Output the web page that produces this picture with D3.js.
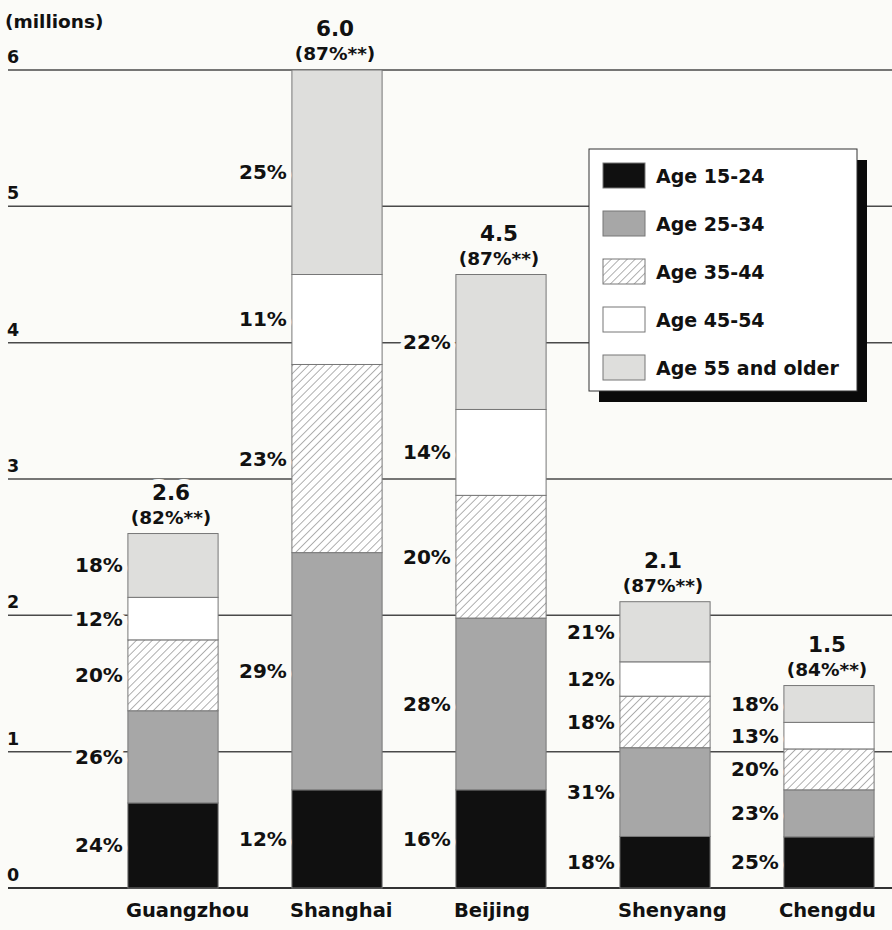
<!DOCTYPE html>
<html>
<head>
<meta charset="utf-8">
<script src="https://cdn.jsdelivr.net/npm/d3@7"></script>
<style>
  html, body { margin: 0; padding: 0; background: #fbfbf8; }
  svg { display: block; font-family: "DejaVu Sans", sans-serif; font-weight: bold; }
</style>
</head>
<body>
<svg id="chart" width="892" height="930"></svg>
<script>
// ---- data ----
const cities = ["Guangzhou", "Shanghai", "Beijing", "Shenyang", "Chengdu"];
const totals = [2.6, 6.0, 4.5, 2.1, 1.5];           // millions
const adultShare = [82, 87, 87, 87, 84];             // (xx%**)
const ageGroups = ["Age 15-24", "Age 25-34", "Age 35-44", "Age 45-54", "Age 55 and older"];
const pct15to24 = [24, 12, 16, 18, 25];
const pct25to34 = [26, 29, 28, 31, 23];
const pct35to44 = [20, 23, 20, 18, 20];
const pct45to54 = [12, 11, 14, 12, 13];
const pct55plus = [18, 25, 22, 21, 18];
const yTicks = [0, 1, 2, 3, 4, 5, 6];
const yUnit = "(millions)";

// ---- layout ----
const W = 892, H = 930;
const bg = "#fbfbf8";
const ink = "#111111";
const svg = d3.select("#chart");
svg.append("rect").attr("width", W).attr("height", H).attr("fill", bg);

const y = d3.scaleLinear().domain([0, 6]).range([888, 70]);
const x = d3.scaleBand().domain(cities).range([91, 91 + 5 * 164])
  .paddingInner(0.45).paddingOuter(0.225);

const pctSeries = [pct15to24, pct25to34, pct35to44, pct45to54, pct55plus];
const rows = cities.map((c, i) => {
  const r = { city: c, total: totals[i], share: adultShare[i] };
  ageGroups.forEach((g, k) => r[g] = totals[i] * pctSeries[k][i] / 100);
  return r;
});
const stacked = d3.stack().keys(ageGroups)(rows);

const fills = ["#101010", "#a7a7a7", "url(#hatch)", "#ffffff", "#dededc"];
const color = d3.scaleOrdinal().domain(ageGroups).range(fills);

// hatch pattern
const defs = svg.append("defs");
const pat = defs.append("pattern").attr("id", "hatch")
  .attr("patternUnits", "userSpaceOnUse").attr("width", 5.6).attr("height", 10)
  .attr("patternTransform", "rotate(45)");
pat.append("rect").attr("width", 5.6).attr("height", 10).attr("fill", "#ffffff");
pat.append("line").attr("x1", 0).attr("y1", 0).attr("x2", 0).attr("y2", 10)
  .attr("stroke", "#6f6f6f").attr("stroke-width", 1.1);

// gridlines
svg.append("g").selectAll("line").data(yTicks).join("line")
  .attr("x1", 8).attr("x2", W)
  .attr("y1", d => y(d)).attr("y2", d => y(d))
  .attr("stroke", d => d === 0 ? "#333" : "#4a4a4a")
  .attr("stroke-width", d => d === 0 ? 2 : 1.5);

// tick labels
svg.append("g").selectAll("text").data(yTicks).join("text")
  .attr("x", 7).attr("y", d => y(d) - 7)
  .attr("font-size", 17.5).attr("fill", ink)
  .text(d => d);
svg.append("text").attr("x", 5).attr("y", 28).attr("font-size", 18.5)
  .attr("fill", ink).text(yUnit);

// bars
const bars = svg.append("g");
stacked.forEach(layer => {
  bars.append("g").selectAll("rect").data(layer).join("rect")
    .attr("x", d => x(d.data.city))
    .attr("width", x.bandwidth())
    .attr("y", d => y(d[1]))
    .attr("height", d => y(d[0]) - y(d[1]))
    .attr("fill", color(layer.key))
    .attr("stroke", "#777").attr("stroke-width", 1);
});

// percentage labels
const halo = sel => sel.attr("paint-order", "stroke").attr("stroke", bg)
  .attr("stroke-width", 10).attr("stroke-linejoin", "round");
const labG = svg.append("g");
stacked.forEach((layer, k) => {
  labG.append("g").selectAll("text").data(layer).join("text")
    .attr("x", d => x(d.data.city) - 5)
    .attr("y", d => (y(d[0]) + y(d[1])) / 2 + 7)
    .attr("text-anchor", "end").attr("font-size", 20).attr("fill", ink)
    .call(halo)
    .text((d, i) => pctSeries[k][i] + "%");
});

// totals
const topOf = d => y(d3.max(stacked, l => l[cities.indexOf(d.city)][1]));
const totG = svg.append("g");
totG.selectAll("text.tot").data(rows).join("text").attr("class", "tot")
  .attr("x", d => x(d.city) + x.bandwidth() / 2 - 2)
  .attr("y", d => topOf(d) - 34)
  .attr("text-anchor", "middle").attr("font-size", 21.5).attr("fill", ink)
  .call(halo)
  .text(d => d3.format(".1f")(d.total));
totG.selectAll("text.sh").data(rows).join("text").attr("class", "sh")
  .attr("x", d => x(d.city) + x.bandwidth() / 2 - 2)
  .attr("y", d => topOf(d) - 10)
  .attr("text-anchor", "middle").attr("font-size", 18.5).attr("fill", ink)
  .call(halo)
  .text(d => "(" + d.share + "%**)");

// category labels
svg.append("g").selectAll("text").data(cities).join("text")
  .attr("y", 917).attr("font-size", 19.5).attr("fill", ink)
  .text(d => d)
  .attr("x", function (d) {
    const w = this.getComputedTextLength();
    return Math.min(x(d) - 2, W - 16 - w);
  });

// legend
const lg = svg.append("g").attr("transform", "translate(589,149)");
lg.append("rect").attr("x", 10).attr("y", 11).attr("width", 268).attr("height", 242).attr("fill", "#0a0a0a");
lg.append("rect").attr("width", 268).attr("height", 242).attr("fill", "#ffffff")
  .attr("stroke", "#333").attr("stroke-width", 1);
const item = lg.selectAll("g.item").data(ageGroups).join("g").attr("class", "item")
  .attr("transform", (d, i) => `translate(14,${14 + i * 48})`);
item.append("rect").attr("width", 42).attr("height", 25)
  .attr("fill", d => color(d)).attr("stroke", "#777").attr("stroke-width", 1);
item.append("text").attr("x", 53).attr("y", 20).attr("font-size", 19)
  .attr("fill", ink).text(d => d);
</script>
</body>
</html>
